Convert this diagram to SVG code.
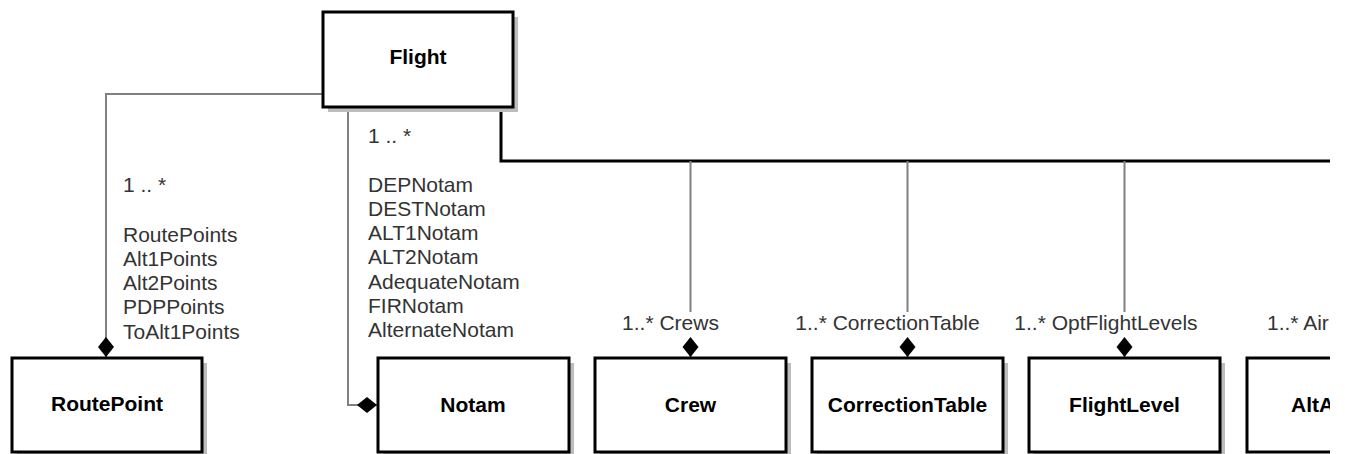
<svg xmlns="http://www.w3.org/2000/svg" width="1345" height="454" viewBox="0 0 1345 454">
<style>
.box{fill:#fff;stroke:#000;stroke-width:3}
.shadow{fill:#bdbdbd}
.title{font-family:"Liberation Sans",Arial,sans-serif;font-size:21px;font-weight:bold;fill:#000;text-anchor:middle}
.lbl{font-family:"Liberation Sans",Arial,sans-serif;font-size:21px;fill:#333}
.mid{text-anchor:middle}
.conn{fill:none;stroke:#808080;stroke-width:2}
.bus{fill:none;stroke:#000;stroke-width:3}
</style>
<defs>
<marker id="diamond" markerUnits="userSpaceOnUse" markerWidth="22" markerHeight="18" viewBox="0 0 22 18" refX="21" refY="9" orient="auto">
<path d="M1,9 L11,1 L21,9 L11,17 Z" fill="#000"/>
</marker>
<clipPath id="clip"><rect x="0" y="0" width="1330" height="454"/></clipPath>
</defs>
<rect width="1345" height="454" fill="#fff"/>
<g clip-path="url(#clip)">
<g id="connectors">
<path class="bus" d="M501,107 V161 H1330"/>
<path class="conn" d="M323,94 H106 V357" marker-end="url(#diamond)"/>
<path class="conn" d="M348,107 V405 H377" marker-end="url(#diamond)"/>
<path class="conn" d="M690.5,161 V312 M690.5,340 V357" marker-end="url(#diamond)"/>
<path class="conn" d="M907.5,161 V312 M907.5,340 V357" marker-end="url(#diamond)"/>
<path class="conn" d="M1124.5,161 V312 M1124.5,340 V357" marker-end="url(#diamond)"/>
<text class="lbl" x="123" y="192">1 .. *</text>
<text class="lbl" x="123" y="241.7">RoutePoints</text>
<text class="lbl" x="123" y="265.9">Alt1Points</text>
<text class="lbl" x="123" y="290.1">Alt2Points</text>
<text class="lbl" x="123" y="314.3">PDPPoints</text>
<text class="lbl" x="123" y="338.5">ToAlt1Points</text>
<text class="lbl" x="368" y="143.3">1 .. *</text>
<text class="lbl" x="368" y="191.7">DEPNotam</text>
<text class="lbl" x="368" y="215.9">DESTNotam</text>
<text class="lbl" x="368" y="240.1">ALT1Notam</text>
<text class="lbl" x="368" y="264.3">ALT2Notam</text>
<text class="lbl" x="368" y="288.5">AdequateNotam</text>
<text class="lbl" x="368" y="312.7">FIRNotam</text>
<text class="lbl" x="368" y="336.9">AlternateNotam</text>
<text class="lbl mid" x="670.5" y="330">1..* Crews</text>
<text class="lbl mid" x="887.5" y="330">1..* CorrectionTable</text>
<text class="lbl mid" x="1106" y="330">1..* OptFlightLevels</text>
<text class="lbl" x="1267" y="330">1..* Air</text>
</g>
<g id="flight">
<rect class="shadow" x="328" y="17" width="190" height="95"/>
<rect class="box" x="323" y="12" width="190" height="95"/>
<text class="title" x="418" y="64">Flight</text>
</g>
<g id="routepoint">
<rect class="shadow" x="17" y="363" width="190" height="94"/>
<rect class="box" x="12" y="358" width="190" height="94"/>
<text class="title" x="107" y="411">RoutePoint</text>
</g>
<g id="notam">
<rect class="shadow" x="383" y="363" width="191" height="94"/>
<rect class="box" x="378" y="358" width="191" height="94"/>
<text class="title" x="473" y="411.5">Notam</text>
</g>
<g id="crew">
<rect class="shadow" x="600" y="363" width="191" height="94"/>
<rect class="box" x="595" y="358" width="191" height="94"/>
<text class="title" x="690.5" y="411.5">Crew</text>
</g>
<g id="correctiontable">
<rect class="shadow" x="817" y="363" width="191" height="94"/>
<rect class="box" x="812" y="358" width="191" height="94"/>
<text class="title" x="907.5" y="411.5">CorrectionTable</text>
</g>
<g id="flightlevel">
<rect class="shadow" x="1034" y="363" width="191" height="94"/>
<rect class="box" x="1029" y="358" width="191" height="94"/>
<text class="title" x="1124.5" y="411.5">FlightLevel</text>
</g>
<g id="alta">
<rect class="box" x="1247" y="358" width="191" height="94"/>
<text class="title" x="1291" y="411.5" style="text-anchor:start">AltA</text>
</g>
</g>
</svg>
